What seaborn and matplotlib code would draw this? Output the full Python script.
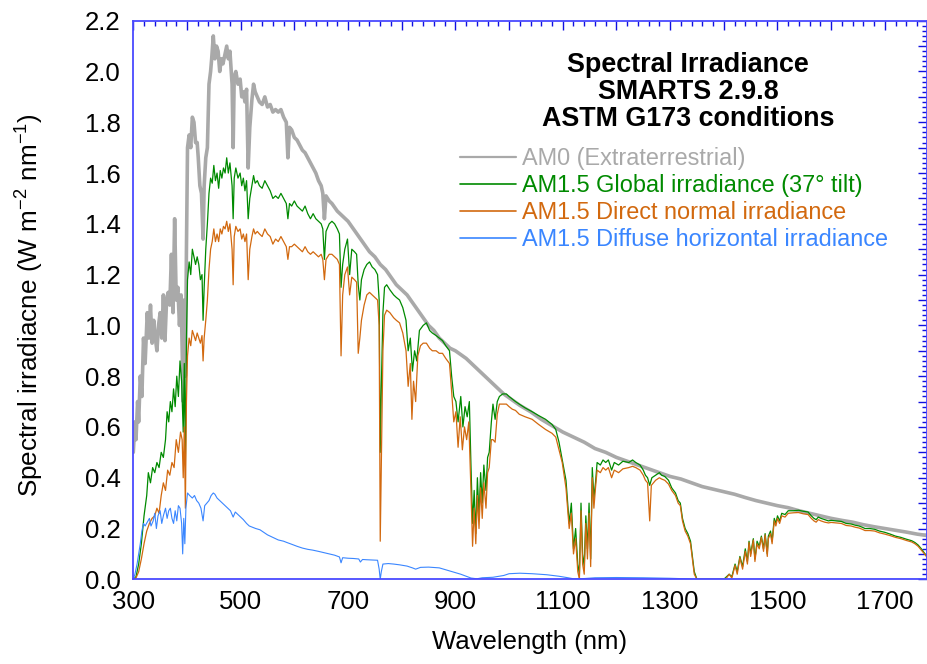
import numpy as np
import pandas as pd
import seaborn as sns
import matplotlib.pyplot as plt
from matplotlib.ticker import MultipleLocator, FuncFormatter

# 1. data (nm, W m-2 nm-1)
am0_wl = [300, 303, 305, 308, 310, 313, 316, 319, 322, 326, 329, 332, 335, 338, 341, 344, 347, 350, 353, 356,
          359, 362, 365, 368, 371, 374, 377, 380, 383, 386, 389, 391, 393, 395, 397, 399, 401, 404, 407, 410,
          413, 416, 419, 421, 424, 427, 430, 432, 435, 438, 441, 444, 446, 449, 452, 455, 458, 461, 464, 467,
          470, 474, 477, 480, 484, 486, 488, 491, 495, 499, 502, 505, 508, 511, 514, 517, 521, 524, 527, 531,
          535, 540, 545, 550, 555, 560, 565, 570, 575, 580, 585, 588, 591, 595, 600, 605, 610, 615, 620, 625,
          630, 635, 640, 645, 650, 653, 656, 659, 665, 670, 680, 690, 700, 710, 720, 730, 740, 750, 760, 770,
          780, 790, 800, 810, 820, 830, 840, 850, 860, 870, 880, 890, 900, 910, 920, 930, 940, 950, 960, 970,
          980, 990, 1000, 1020, 1040, 1060, 1080, 1100, 1120, 1140, 1160, 1180, 1200, 1220, 1240, 1260, 1280,
          1300, 1320, 1340, 1360, 1380, 1400, 1420, 1440, 1460, 1480, 1500, 1520, 1540, 1560, 1580, 1600, 1620,
          1640, 1660, 1680, 1700, 1720, 1740, 1760, 1780]
am0 = [0.50, 0.62, 0.55, 0.70, 0.62, 0.80, 0.72, 0.95, 0.85, 1.05, 0.95, 1.08, 0.93, 1.02, 0.95, 0.90, 1.00, 1.05, 0.95, 1.12,
       0.94, 1.10, 1.13, 1.08, 1.28, 1.05, 1.42, 1.10, 1.15, 1.00, 1.12, 0.90, 0.70, 1.10, 0.80, 1.30, 1.70, 1.75, 1.70, 1.82,
       1.80, 1.72, 1.72, 1.66, 1.55, 1.52, 1.34, 1.55, 1.66, 1.70, 1.95, 2.00, 2.05, 2.14, 2.05, 2.10, 2.08, 2.00, 2.05, 2.03,
       2.06, 2.10, 2.05, 2.08, 1.95, 1.70, 1.98, 2.00, 1.95, 1.97, 1.90, 1.92, 1.88, 1.93, 1.62, 1.78, 1.89, 1.95, 1.92, 1.90,
       1.88, 1.87, 1.90, 1.86, 1.87, 1.84, 1.85, 1.84, 1.85, 1.82, 1.80, 1.66, 1.78, 1.77, 1.74, 1.73, 1.71, 1.69, 1.68, 1.66,
       1.64, 1.62, 1.60, 1.57, 1.55, 1.52, 1.42, 1.51, 1.49, 1.48, 1.45, 1.43, 1.41, 1.38, 1.35, 1.32, 1.29, 1.27, 1.24, 1.22,
       1.19, 1.16, 1.14, 1.12, 1.09, 1.06, 1.03, 1.00, 0.98, 0.95, 0.93, 0.91, 0.90, 0.885, 0.87, 0.85, 0.83, 0.81, 0.79, 0.77,
       0.75, 0.73, 0.715, 0.685, 0.66, 0.63, 0.605, 0.58, 0.56, 0.54, 0.515, 0.50, 0.48, 0.465, 0.45, 0.435, 0.42,
       0.405, 0.395, 0.38, 0.365, 0.355, 0.345, 0.335, 0.322, 0.31, 0.30, 0.29, 0.282, 0.27, 0.26, 0.25, 0.24, 0.232,
       0.225, 0.215, 0.207, 0.20, 0.193, 0.186, 0.178, 0.172]

glob_wl = [300, 305, 310, 315, 320, 325, 328, 332, 336, 340, 344, 348, 352, 356, 360, 363, 366, 369, 372, 375,
           378, 381, 384, 387, 390, 393, 395, 397, 399, 401, 404, 407, 410, 413, 416, 419, 422, 425, 428, 430,
           432, 435, 438, 441, 444, 447, 450, 453, 456, 459, 462, 465, 468, 471, 474, 477, 480, 484, 486, 488,
           491, 495, 499, 502, 505, 508, 511, 514, 517, 521, 524, 527, 531, 535, 540, 545, 550, 555, 560, 565,
           570, 575, 580, 585, 588, 591, 595, 600, 605, 610, 615, 620, 625, 630, 635, 640, 645, 650, 653, 656,
           659, 665, 670, 675, 680, 684, 687, 690, 694, 699, 703, 707, 712, 716, 719, 722, 725, 730, 735, 740,
           745, 750, 755, 758, 760, 762, 765, 768, 772, 778, 785, 790, 796, 802, 808, 812, 816, 820, 824, 828,
           833, 840, 846, 852, 857, 864, 870, 876, 882, 889, 893, 897, 901, 905, 910, 914, 918, 922, 926, 929,
           932, 935, 938, 941, 944, 947, 950, 953, 957, 960, 963, 967, 970, 974, 978, 982, 988, 995, 1000, 1006,
           1012, 1019, 1030, 1043, 1055, 1068, 1080, 1087, 1093, 1099, 1106, 1112, 1116, 1120, 1124, 1128, 1131, 1134, 1137, 1140,
           1143, 1146, 1149, 1152, 1155, 1158, 1161, 1164, 1170, 1175, 1180, 1185, 1191, 1196, 1204, 1212, 1223, 1230, 1236, 1244,
           1250, 1254, 1258, 1262, 1266, 1273, 1280, 1284, 1290, 1297, 1303, 1310, 1315, 1319, 1323, 1328, 1333, 1338, 1341, 1345,
           1350, 1400, 1405, 1410, 1415, 1421, 1425, 1430, 1435, 1440, 1444, 1447, 1450, 1455, 1458, 1462, 1466, 1470, 1474, 1477,
           1481, 1483, 1487, 1490, 1494, 1497, 1500, 1504, 1508, 1514, 1520, 1530, 1539, 1548, 1557, 1563, 1568, 1572, 1576, 1581,
           1588, 1595, 1600, 1610, 1619, 1628, 1637, 1645, 1652, 1658, 1663, 1672, 1681, 1690, 1700, 1710, 1720, 1730, 1740, 1750,
           1756, 1762, 1768, 1775, 1780]
glob = [0.0, 0.01, 0.06, 0.14, 0.25, 0.33, 0.42, 0.38, 0.44, 0.42, 0.46, 0.44, 0.50, 0.48, 0.55, 0.66, 0.62, 0.70, 0.66, 0.75,
        0.68, 0.80, 0.72, 0.86, 0.78, 0.58, 0.85, 0.45, 0.95, 1.18, 1.25, 1.20, 1.30, 1.27, 1.24, 1.27, 1.24, 1.18, 1.20, 1.02,
        1.15, 1.30, 1.40, 1.52, 1.58, 1.56, 1.63, 1.57, 1.60, 1.54, 1.61, 1.58, 1.62, 1.60, 1.66, 1.60, 1.64, 1.55, 1.42, 1.58,
        1.62, 1.58, 1.60, 1.55, 1.58, 1.53, 1.57, 1.42, 1.50, 1.55, 1.59, 1.56, 1.57, 1.55, 1.54, 1.57, 1.55, 1.53, 1.50, 1.51,
        1.50, 1.52, 1.50, 1.48, 1.42, 1.48, 1.47, 1.49, 1.47, 1.46, 1.45, 1.47, 1.44, 1.42, 1.44, 1.42, 1.41, 1.40, 1.38, 1.26,
        1.37, 1.40, 1.41, 1.40, 1.38, 1.36, 1.15, 1.24, 1.30, 1.34, 1.20, 1.30, 1.29, 1.28, 1.16, 1.10, 1.18, 1.22, 1.24, 1.25,
        1.23, 1.22, 1.20, 1.10, 0.50, 0.75, 1.05, 1.15, 1.16, 1.14, 1.12, 1.11, 1.10, 1.07, 1.02, 0.90, 0.95, 0.82, 0.90, 0.86,
        0.98, 1.00, 1.01, 0.98, 0.97, 0.96, 0.95, 0.94, 0.92, 0.90, 0.80, 0.72, 0.70, 0.62, 0.72, 0.60, 0.68, 0.64, 0.70, 0.45,
        0.22, 0.35, 0.18, 0.40, 0.25, 0.42, 0.30, 0.45, 0.35, 0.48, 0.50, 0.62, 0.69, 0.63, 0.70, 0.72, 0.73, 0.73, 0.72, 0.71,
        0.70, 0.69, 0.675, 0.66, 0.645, 0.63, 0.61, 0.59, 0.54, 0.47, 0.39, 0.22, 0.30, 0.12, 0.20, 0.06, 0.02, 0.30, 0.10, 0.05,
        0.25, 0.12, 0.30, 0.08, 0.44, 0.32, 0.38, 0.46, 0.45, 0.47, 0.46, 0.47, 0.43, 0.46, 0.45, 0.465, 0.46, 0.47, 0.46, 0.45,
        0.43, 0.41, 0.40, 0.37, 0.40, 0.41, 0.42, 0.41, 0.405, 0.39, 0.36, 0.34, 0.31, 0.30, 0.24, 0.20, 0.18, 0.15, 0.10, 0.03,
        0.0, 0.0, 0.01, 0.02, 0.01, 0.06, 0.03, 0.09, 0.05, 0.12, 0.07, 0.15, 0.10, 0.16, 0.08, 0.15, 0.13, 0.17, 0.12, 0.18,
        0.10, 0.17, 0.19, 0.15, 0.24, 0.22, 0.25, 0.23, 0.26, 0.255, 0.27, 0.27, 0.272, 0.268, 0.265, 0.25, 0.24, 0.235, 0.245, 0.24,
        0.235, 0.23, 0.232, 0.23, 0.228, 0.22, 0.218, 0.213, 0.21, 0.205, 0.20, 0.20, 0.197, 0.19, 0.185, 0.178, 0.17, 0.165, 0.158, 0.152,
        0.145, 0.135, 0.12, 0.10, 0.085]

dir_wl = [300, 305, 310, 315, 320, 325, 330, 335, 340, 344, 348, 352, 356, 360, 364, 368, 372, 376, 380, 384,
          388, 391, 393, 395, 397, 399, 401, 404, 407, 410, 413, 416, 419, 422, 425, 428, 430, 432, 435, 438,
          441, 444, 447, 450, 453, 456, 459, 462, 465, 468, 471, 474, 477, 480, 484, 486, 488, 491, 495, 499,
          502, 505, 508, 511, 514, 517, 521, 524, 527, 531, 535, 540, 545, 550, 555, 560, 565, 570, 575, 580,
          585, 588, 591, 595, 600, 605, 610, 615, 620, 625, 630, 635, 640, 645, 650, 653, 656, 659, 665, 670,
          675, 680, 684, 687, 690, 694, 699, 703, 707, 712, 716, 719, 722, 725, 730, 735, 740, 745, 750, 755,
          758, 760, 762, 765, 768, 772, 778, 785, 790, 796, 802, 808, 812, 816, 819, 822, 826, 830, 835, 840,
          846, 852, 857, 864, 870, 876, 882, 889, 893, 897, 901, 905, 909, 913, 917, 921, 925, 929, 932, 935,
          938, 941, 944, 947, 950, 953, 957, 960, 963, 967, 970, 974, 978, 982, 988, 995, 1000, 1006, 1012, 1019,
          1030, 1043, 1055, 1068, 1080, 1087, 1093, 1099, 1106, 1112, 1116, 1120, 1124, 1128, 1131, 1134, 1137, 1140, 1143, 1146,
          1149, 1152, 1155, 1158, 1161, 1164, 1170, 1175, 1180, 1185, 1191, 1196, 1204, 1212, 1223, 1230, 1236, 1244, 1250, 1254,
          1258, 1262, 1265, 1273, 1280, 1284, 1290, 1297, 1303, 1310, 1315, 1319, 1323, 1328, 1333, 1338, 1341, 1345, 1350, 1400,
          1405, 1410, 1415, 1421, 1425, 1430, 1435, 1440, 1444, 1447, 1450, 1455, 1458, 1462, 1466, 1470, 1474, 1477, 1481, 1483,
          1487, 1490, 1494, 1497, 1500, 1504, 1508, 1514, 1520, 1530, 1539, 1548, 1557, 1563, 1568, 1572, 1576, 1581, 1588, 1595,
          1600, 1610, 1619, 1628, 1637, 1645, 1652, 1658, 1663, 1672, 1681, 1690, 1700, 1710, 1720, 1730, 1740, 1750, 1756, 1762,
          1768, 1775, 1780]
direct = [0.0, 0.005, 0.03, 0.08, 0.14, 0.19, 0.22, 0.24, 0.25, 0.28, 0.26, 0.33, 0.38, 0.35, 0.43, 0.41, 0.46, 0.44, 0.55, 0.50,
          0.58, 0.55, 0.40, 0.60, 0.28, 0.70, 0.88, 0.95, 0.92, 0.98, 0.96, 0.94, 0.97, 0.95, 0.93, 0.96, 0.86, 0.95, 1.02, 1.10,
          1.22, 1.30, 1.33, 1.38, 1.33, 1.36, 1.33, 1.38, 1.36, 1.39, 1.38, 1.41, 1.37, 1.40, 1.30, 1.16, 1.35, 1.39, 1.37, 1.38,
          1.34, 1.36, 1.33, 1.36, 1.18, 1.30, 1.35, 1.38, 1.36, 1.37, 1.36, 1.35, 1.38, 1.36, 1.35, 1.32, 1.34, 1.33, 1.35, 1.33,
          1.31, 1.26, 1.31, 1.31, 1.32, 1.31, 1.30, 1.29, 1.31, 1.29, 1.28, 1.29, 1.28, 1.27, 1.28, 1.26, 1.18, 1.26, 1.28, 1.28,
          1.27, 1.26, 1.24, 0.88, 1.12, 1.20, 1.23, 1.12, 1.19, 1.18, 1.17, 0.89, 0.95, 1.02, 1.08, 1.12, 1.13, 1.12, 1.11, 1.10,
          1.00, 0.15, 0.45, 0.90, 1.04, 1.06, 1.05, 1.03, 1.02, 1.01, 0.97, 0.90, 0.76, 0.85, 0.63, 0.78, 0.70, 0.88, 0.92, 0.93,
          0.93, 0.91, 0.90, 0.90, 0.89, 0.89, 0.87, 0.85, 0.74, 0.62, 0.66, 0.52, 0.64, 0.51, 0.60, 0.55, 0.62, 0.35, 0.13, 0.28,
          0.14, 0.33, 0.20, 0.36, 0.24, 0.38, 0.28, 0.42, 0.44, 0.55, 0.55, 0.54, 0.65, 0.69, 0.69, 0.69, 0.68, 0.67, 0.665, 0.65,
          0.64, 0.63, 0.61, 0.59, 0.575, 0.56, 0.51, 0.46, 0.36, 0.20, 0.26, 0.10, 0.16, 0.03, 0.0, 0.27, 0.06, 0.02, 0.22, 0.08,
          0.26, 0.05, 0.40, 0.28, 0.36, 0.43, 0.42, 0.44, 0.43, 0.44, 0.40, 0.43, 0.42, 0.435, 0.44, 0.445, 0.44, 0.43, 0.41, 0.39,
          0.38, 0.23, 0.37, 0.39, 0.40, 0.395, 0.39, 0.375, 0.35, 0.33, 0.30, 0.29, 0.23, 0.19, 0.17, 0.14, 0.09, 0.02, 0.0, 0.0,
          0.005, 0.02, 0.005, 0.055, 0.02, 0.085, 0.04, 0.11, 0.06, 0.145, 0.09, 0.155, 0.07, 0.14, 0.12, 0.165, 0.11, 0.175, 0.09, 0.16,
          0.18, 0.14, 0.23, 0.21, 0.24, 0.22, 0.25, 0.245, 0.26, 0.262, 0.263, 0.258, 0.255, 0.24, 0.23, 0.225, 0.235, 0.23, 0.225, 0.222,
          0.224, 0.222, 0.22, 0.212, 0.21, 0.205, 0.202, 0.197, 0.192, 0.192, 0.19, 0.183, 0.178, 0.172, 0.165, 0.16, 0.153, 0.147, 0.14, 0.13,
          0.115, 0.097, 0.082]

dif_wl = [300, 303, 307, 310, 313, 316, 319, 322, 326, 330, 333, 337, 340, 343, 346, 350, 353, 356, 360, 363,
          366, 369, 372, 375, 378, 381, 384, 387, 390, 392, 394, 396, 398, 401, 405, 410, 414, 418, 422, 426,
          430, 433, 437, 441, 445, 449, 452, 456, 461, 466, 471, 476, 481, 486, 490, 495, 500, 505, 511, 516,
          522, 528, 536, 543, 550, 560, 570, 580, 586, 595, 605, 615, 625, 634, 645, 655, 665, 675, 684, 687,
          690, 700, 710, 720, 723, 727, 735, 745, 755, 758, 760, 762, 765, 775, 785, 796, 810, 820, 826, 835,
          850, 870, 894, 910, 929, 940, 950, 970, 990, 1000, 1020, 1043, 1070, 1093, 1110, 1120, 1140, 1160, 1200, 1250,
          1300, 1330, 1350, 1780]
diffuse = [0.0, 0.02, 0.06, 0.10, 0.14, 0.19, 0.22, 0.21, 0.225, 0.24, 0.21, 0.23, 0.26, 0.20, 0.25, 0.27, 0.22, 0.25, 0.28, 0.24,
           0.27, 0.28, 0.24, 0.22, 0.27, 0.23, 0.29, 0.28, 0.22, 0.10, 0.24, 0.14, 0.28, 0.34, 0.33, 0.32, 0.33, 0.31, 0.30, 0.28,
           0.23, 0.29, 0.30, 0.31, 0.33, 0.34, 0.335, 0.32, 0.31, 0.30, 0.29, 0.28, 0.27, 0.245, 0.265, 0.255, 0.245, 0.235, 0.22, 0.21,
           0.205, 0.20, 0.195, 0.185, 0.175, 0.165, 0.155, 0.15, 0.145, 0.138, 0.13, 0.123, 0.118, 0.115, 0.11, 0.105, 0.10, 0.095, 0.088, 0.065,
           0.085, 0.083, 0.082, 0.08, 0.068, 0.078, 0.077, 0.076, 0.075, 0.04, 0.0, 0.03, 0.06, 0.062, 0.06, 0.057, 0.052, 0.045, 0.04, 0.047,
           0.048, 0.045, 0.03, 0.02, 0.005, 0.002, 0.006, 0.008, 0.015, 0.022, 0.024, 0.022, 0.018, 0.012, 0.006, 0.002, 0.003, 0.006, 0.007, 0.006,
           0.004, 0.002, 0.0, 0.0]

labels = ['AM0 (Extraterrestrial)', 'AM1.5 Global irradiance (37° tilt)',
          'AM1.5 Direct normal irradiance', 'AM1.5 Diffuse horizontal irradiance']
colors = ['#a9a9a9', '#008a00', '#d2690f', '#3a86ff']
widths = [2.6, 0.9, 0.9, 0.8]

# 2. style
sns.set_style('white')
plt.rcParams['font.family'] = ['Liberation Sans', 'DejaVu Sans']
plt.rcParams['mathtext.fontset'] = 'custom'
plt.rcParams['mathtext.rm'] = 'Liberation Sans'
plt.rcParams['mathtext.it'] = 'Liberation Sans'
plt.rcParams['text.color'] = 'black'
plt.rcParams['axes.labelcolor'] = 'black'
plt.rcParams['xtick.labelcolor'] = 'black'
plt.rcParams['ytick.labelcolor'] = 'black'

fig = plt.figure(figsize=(9.27, 6.64), dpi=100)
W, H = 927, 664
ax = fig.add_axes([133.3 / W, 1 - 579.3 / H, (926.5 - 133.3) / W, (579.3 - 20.7) / H])

# 3. curves
series = [(am0_wl, am0), (glob_wl, glob), (dir_wl, direct), (dif_wl, diffuse)]
for (wl, val), lab, c, lw in zip(series, labels, colors, widths):
    df = pd.DataFrame({'wl': wl, 'val': val})
    sns.lineplot(data=df, x='wl', y='val', ax=ax, color=c, linewidth=lw, label=lab,
                 estimator=None, sort=False)

ax.set_xlim(300, 1777.6)
ax.set_ylim(0, 2.2)

# 4. axes, ticks
ax.xaxis.set_major_locator(MultipleLocator(100))
ax.xaxis.set_minor_locator(MultipleLocator(20))
ax.yaxis.set_major_locator(MultipleLocator(0.1))
ax.yaxis.set_minor_locator(MultipleLocator(0.02))
ax.xaxis.set_major_formatter(FuncFormatter(lambda v, p: f'{v:.0f}' if round(v - 300) % 200 == 0 else ''))
ax.yaxis.set_major_formatter(FuncFormatter(lambda v, p: f'{v:.1f}' if round(v * 10) % 2 == 0 else ''))
ax.tick_params(which='both', direction='in', top=True, right=True, color='#1010e0',
               labelcolor='black', labelsize=18.5)
ax.tick_params(which='major', length=6.5, width=1.0)
ax.tick_params(which='minor', length=3.3, width=1.0)
ax.tick_params(axis='x', pad=8)
ax.tick_params(axis='y', pad=9)
for s in ax.spines.values():
    s.set_color('#4a4aff')
    s.set_linewidth(1.3)

ax.set_xlabel('Wavelength (nm)', fontsize=18.5, color='black')
ax.set_ylabel(r'Spectral irradiacne (W m$^{\mathregular{-2}}$ nm$^{\mathregular{-1}}$)', fontsize=18.8, color='black')
ax.xaxis.set_label_coords(0.5, -0.09)
ax.yaxis.set_label_coords((46 - 133.3) / 793.2, 0.491)

# 5. title and legend
fig.text(688 / W, 1 - 72 / H, 'Spectral Irradiance', ha='center', va='baseline', fontsize=19.4,
         fontweight='bold', color='black')
fig.text(688 / W, 1 - 99 / H, 'SMARTS 2.9.8', ha='center', va='baseline', fontsize=19.4,
         fontweight='bold', color='black')
fig.text(688 / W, 1 - 125.7 / H, 'ASTM G173 conditions', ha='center', va='baseline', fontsize=19.4,
         fontweight='bold', color='black')

handles, labs = ax.get_legend_handles_labels()
leg = ax.legend(handles, labs, loc='upper left', bbox_to_anchor=((460 - 133.3) / 793.2, (579.3 - 147.5) / 558.6),
                frameon=False, fontsize=16.9, borderpad=0, borderaxespad=0, labelspacing=0.17,
                handlelength=2.4, handletextpad=0.25)
for t, c in zip(leg.get_texts(), colors):
    t.set_color(c)
for h in leg.get_lines():
    h.set_linewidth(1.2)
leg.get_lines()[0].set_linewidth(1.6)

fig.savefig('out.png', dpi=100)
